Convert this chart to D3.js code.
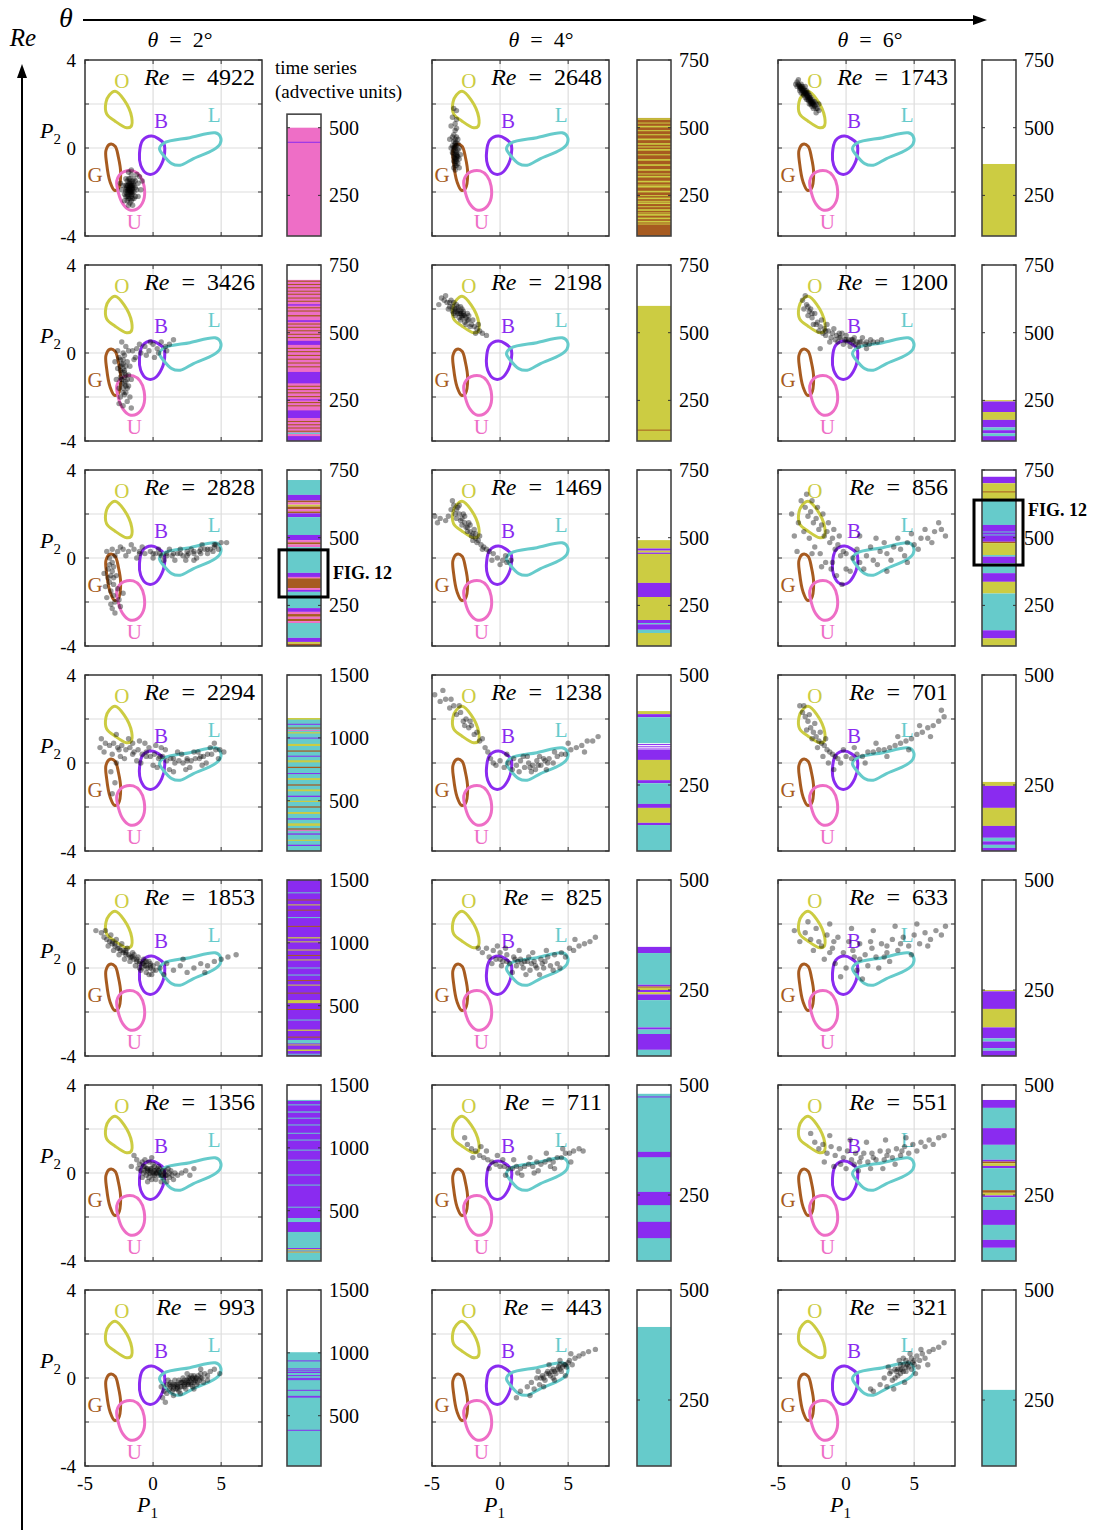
<!DOCTYPE html>
<html><head><meta charset="utf-8">
<script src="https://cdn.jsdelivr.net/npm/d3@7"></script>
<style>body{margin:0;background:#fff}</style>
</head><body>
<svg id="chart" width="1100" height="1530"></svg>
<script>
// ---- regime colours (O, B, L, G, U) ----
const stateColors = {O:"#cccc42", B:"#8a2bf0", L:"#66cbcb", G:"#a75b20", U:"#ee6ec6"};

// ---- grid of runs: rows = Re, columns = theta ----
const thetaCols = [2, 4, 6];
const reGrid = [[4922,2648,1743],[3426,2198,1200],[2828,1469,856],[2294,1238,701],[1853,825,633],[1356,711,551],[993,443,321]];
const timeMax = [[750,750,750],[750,750,750],[750,750,750],[1500,500,500],[1500,500,500],[1500,500,500],[1500,500,500]];
const frameTop = [[550,750,750],[750,750,750],[750,750,750],[1500,500,500],[1500,500,500],[1500,500,500],[1500,500,500]];
const timeTicks = {750:[250,500,750], 1500:[500,1000,1500], 500:[250,500]};

// ---- phase-space axes ----
const p1Domain = [-5, 8], p2Domain = [-4, 4];
const p1Ticks = [-5, 0, 5], p2Ticks = [-4, -2, 0, 2, 4];
const p1Grid = [0, 5], p2Grid = [-2, 0, 2];
const p1Labels = [-5, 0, 5], p2Labels = [-4, 0, 4];

// ---- regime contours in (P1, P2) ----
const loopO = [[-2.79,2.58],[-2.13,2.19],[-1.57,1.40],[-1.62,0.98],[-1.94,0.92],[-2.79,1.22],[-3.41,1.55],[-3.46,2.08],[-3.21,2.41]];
const loopB = [[-0.10,0.54],[0.76,0.23],[0.86,-0.03],[0.64,-0.71],[0.07,-1.16],[-0.47,-1.16],[-0.91,-0.78],[-1.00,-0.26],[-0.76,0.35]];
const loopL = [[0.81,0.23],[2.70,0.47],[4.56,0.69],[4.93,0.53],[4.93,0.20],[4.44,-0.08],[2.97,-0.48],[1.99,-0.78],[1.37,-0.71],[0.76,-0.33],[0.47,-0.03]];
const loopG = [[-3.16,0.17],[-2.79,0.08],[-2.55,-0.41],[-2.38,-1.16],[-2.55,-1.84],[-2.84,-1.92],[-3.16,-1.54],[-3.41,-0.71],[-3.46,-0.11]];
const loopU = [[-2.13,-1.07],[-1.45,-1.04],[-0.96,-1.27],[-0.66,-1.73],[-0.71,-2.40],[-1.20,-2.78],[-1.74,-2.81],[-2.23,-2.53],[-2.55,-2.03],[-2.67,-1.50],[-2.48,-1.23]];
const loopKeys = ["O","B","L","G","U"];
const loopLabelAt = {O:[-2.3,3.06], B:[0.59,1.25], L:[4.49,1.48], G:[-4.26,-1.24], U:[-1.37,-3.35]};

// ---- sampled states (P1, P2) per run ----
const cloud4922 = [[-1.7,-1.8],[-1.6,-1.6],[-1.8,-2.0],[-1.5,-1.9],[-1.9,-1.7],[-1.7,-1.4],[-1.6,-2.2],[-1.8,-2.3],[-2.0,-1.9],[-1.4,-1.7],[-1.5,-2.1],[-1.9,-1.5],[-1.7,-2.5],[-2.1,-2.1],[-1.3,-1.5],[-1.6,-1.2],[-2.0,-1.4],[-1.8,-1.1],[-1.4,-2.3],[-2.2,-1.7],[-1.2,-1.9],[-1.5,-2.6],[-1.9,-2.4],[-2.3,-1.9],[-1.1,-1.6],[-1.6,-1.0],[-1.3,-2.2],[-2.1,-2.4],[-1.0,-1.3],[-0.8,-1.5],[-1.2,-1.2],[-1.8,-1.8],[-1.6,-1.9],[-1.7,-1.7],[-1.5,-1.5],[-1.9,-2.1],[-1.4,-2.0],[-1.7,-2.1],[-1.8,-1.6],[-1.6,-1.7],[-1.5,-1.8],[-1.7,-2.0],[-2.0,-2.0],[-1.3,-1.8],[-1.8,-2.6],[-1.4,-1.4],[-0.9,-1.9],[-2.4,-1.6],[-1.6,-2.4],[-1.1,-2.2],[-1.7,-1.9],[-1.8,-1.9],[-1.6,-1.8],[-1.7,-1.6],[-1.9,-1.9],[-1.5,-1.7],[-1.8,-2.2],[-1.6,-2.0],[-1.7,-2.3],[-2.0,-1.7],[-1.75,-1.85],[-1.65,-1.75],[-1.85,-1.95],[-1.55,-2.0],[-1.95,-1.8],[-1.7,-1.5],[-1.5,-2.3],[-2.0,-2.2],[-1.45,-1.6],[-1.8,-1.4],[-1.6,-2.1],[-1.9,-2.2],[-1.7,-1.95],[-1.55,-1.85],[-1.85,-1.7]];
const cloud2648 = [[-3.3,0.0],[-3.2,-0.3],[-3.4,0.3],[-3.3,-0.6],[-3.1,-0.1],[-3.5,0.1],[-3.2,0.5],[-3.3,0.8],[-3.4,-0.4],[-3.2,-0.8],[-3.0,-0.5],[-3.5,-0.2],[-3.3,0.4],[-3.1,0.2],[-3.4,0.6],[-3.3,1.1],[-3.5,1.4],[-3.2,1.7],[-3.4,-0.9],[-3.1,-0.7],[-3.6,0.0],[-3.0,0.0],[-3.2,-0.2],[-3.3,-0.3],[-3.4,-0.1],[-3.2,0.1],[-3.3,0.2],[-3.1,-0.4],[-3.4,-0.6],[-3.5,0.5],[-3.6,1.0],[-3.2,1.3],[-3.0,-0.9],[-3.3,-1.0],[-2.9,-0.3],[-3.7,0.4],[-3.2,0.9],[-3.4,1.8],[-3.3,-0.5],[-3.2,-0.6],[-3.3,0.1],[-3.4,0.0],[-3.2,-0.4],[-3.3,-0.8],[-3.1,0.4],[-3.25,-0.15],[-3.35,0.05],[-3.15,-0.35],[-3.35,-0.45],[-3.25,0.25],[-3.45,-0.25],[-3.2,-0.5],[-3.3,-0.7]];
const cloud1743 = [[-3.6,3.0],[-3.5,2.9],[-3.4,2.8],[-3.3,2.7],[-3.2,2.6],[-3.1,2.5],[-3.0,2.5],[-2.9,2.4],[-2.8,2.3],[-2.7,2.2],[-2.6,2.1],[-2.5,2.0],[-2.4,2.0],[-2.3,1.9],[-2.2,1.8],[-2.1,1.8],[-3.5,3.1],[-3.4,2.6],[-3.2,2.8],[-3.1,2.7],[-3.0,2.3],[-2.9,2.6],[-2.8,2.5],[-2.7,2.0],[-2.6,2.3],[-2.5,2.2],[-2.4,1.8],[-2.3,2.1],[-2.2,2.0],[-2.0,1.7],[-3.3,2.9],[-3.3,2.5],[-3.0,2.6],[-2.9,2.2],[-2.8,2.4],[-2.6,2.0],[-2.5,1.9],[-2.7,2.4],[-3.1,2.4],[-3.2,2.7],[-2.4,2.1],[-3.7,2.9],[-3.6,2.8],[-2.2,1.6],[-2.0,2.0],[-2.8,2.2],[-3.0,2.8],[-2.6,2.2],[-3.4,2.7],[-2.9,2.5],[-3.1,2.6],[-2.7,2.3],[-2.5,2.1],[-3.3,2.8],[-3.25,2.65],[-3.05,2.55],[-2.85,2.35],[-2.65,2.25],[-2.45,2.05],[-3.15,2.45],[-2.95,2.45],[-2.75,2.15],[-2.55,2.05],[-3.35,2.75],[-2.35,1.95],[-3.45,2.85]];
const cloud3426 = [[-2.3,-0.5],[-2.1,-0.8],[-2.4,-1.1],[-2.0,-1.3],[-2.2,-1.6],[-1.9,-0.4],[-2.5,-0.2],[-2.2,0.0],[-1.8,-1.0],[-2.6,-0.7],[-2.3,-1.4],[-2.0,-1.8],[-2.4,-2.0],[-1.9,-2.2],[-2.1,-0.1],[-2.7,-1.2],[-2.5,-1.6],[-1.7,-0.6],[-2.2,-0.3],[-2.3,-0.9],[-2.1,-1.1],[-2.0,-0.6],[-2.4,-0.6],[-1.8,-1.5],[-2.6,0.1],[-1.6,-1.2],[-2.2,-2.4],[-1.7,-2.0],[-2.8,-0.4],[-1.5,0.1],[-1.2,0.2],[-0.9,0.0],[-0.6,0.3],[-0.3,0.1],[0.0,0.4],[0.3,0.2],[0.6,0.5],[0.9,0.3],[1.2,0.4],[1.5,0.6],[-1.0,0.4],[-0.5,-0.1],[0.1,-0.2],[-1.4,-0.3],[-2.0,0.3],[-2.3,0.5],[-1.8,0.1],[-2.1,-1.9],[-1.6,-2.5],[-2.5,-2.3],[-2.3,-1.2],[-2.0,-1.0],[-2.2,-0.7],[-1.9,-1.6],[-2.4,-0.3],[-2.1,-1.4],[-1.3,-0.2],[0.4,0.0],[-0.2,0.5],[1.0,0.1],[-2.2,-0.5],[-2.1,-0.9],[-2.3,-1.2],[-2.0,-1.5],[-2.2,-1.8],[-2.4,-0.8],[-1.9,-1.2]];
const cloud2198 = [[-4.3,2.5],[-4.1,2.4],[-3.9,2.3],[-3.7,2.3],[-3.5,2.1],[-3.3,2.0],[-3.1,1.9],[-2.9,1.8],[-2.7,1.7],[-2.5,1.6],[-2.3,1.5],[-2.1,1.3],[-1.9,1.2],[-1.7,1.1],[-1.5,1.0],[-1.3,0.9],[-4.0,2.6],[-3.8,2.0],[-3.6,2.4],[-3.4,1.8],[-3.2,2.2],[-3.0,1.6],[-2.8,2.0],[-2.6,1.4],[-2.4,1.8],[-2.2,1.2],[-2.0,1.5],[-1.8,0.9],[-3.3,1.7],[-3.1,2.1],[-2.9,1.5],[-2.7,1.9],[-2.5,1.3],[-2.3,1.7],[-3.5,1.9],[-3.7,2.1],[-2.6,1.7],[-2.8,1.6],[-3.0,1.8],[-2.4,1.5],[-4.5,2.2],[-1.0,0.8],[-1.6,1.3],[-3.4,2.3],[-2.9,2.1],[-3.1,1.8],[-2.9,1.9],[-3.2,2.0],[-2.7,1.8],[-3.3,1.9],[-2.8,1.7]];
const cloud1200 = [[-3.2,2.4],[-2.9,2.2],[-2.7,1.9],[-2.5,1.6],[-2.2,1.3],[-1.9,1.2],[-1.6,1.1],[-1.3,1.0],[-1.0,0.9],[-0.7,0.8],[-0.4,0.7],[-0.1,0.6],[0.2,0.6],[0.5,0.5],[0.8,0.5],[1.1,0.5],[1.4,0.4],[1.7,0.4],[2.0,0.5],[2.3,0.5],[-3.0,2.6],[-3.1,2.0],[-2.8,1.7],[-2.6,2.0],[-2.4,1.3],[-2.3,1.8],[-2.0,1.0],[-1.8,1.5],[-1.5,0.8],[-1.4,1.3],[-1.1,0.7],[-0.9,1.1],[-0.6,0.5],[-0.5,0.9],[-0.2,0.4],[0.0,0.8],[0.3,0.3],[0.6,0.7],[0.9,0.3],[1.2,0.7],[1.5,0.2],[1.8,0.6],[-1.9,0.2],[-1.2,0.5],[-0.3,0.9],[0.4,0.6],[0.7,0.4],[0.1,0.5],[-0.8,0.6],[2.6,0.6],[-2.1,1.4],[-1.7,0.9],[-0.5,0.7],[0.0,0.6],[0.5,0.6],[1.0,0.5],[1.5,0.5],[-1.5,1.0],[-2.5,1.8],[-2.8,2.1]];
const cloud2828 = [[-3.4,0.3],[-3.0,0.4],[-2.6,0.3],[-2.2,0.4],[-1.8,0.3],[-1.4,0.4],[-1.0,0.3],[-0.6,0.2],[-0.2,0.3],[0.2,0.2],[0.6,0.1],[1.0,0.2],[1.4,0.1],[1.8,0.2],[2.2,0.1],[2.6,0.2],[3.0,0.2],[3.4,0.3],[3.8,0.4],[4.2,0.4],[4.6,0.6],[5.0,0.7],[5.4,0.7],[-3.2,0.0],[-2.8,0.1],[-2.4,0.5],[-2.0,0.1],[-1.6,0.6],[-1.2,0.0],[-0.8,0.5],[0.0,0.0],[0.4,0.4],[0.8,-0.1],[1.2,0.4],[1.6,-0.1],[2.0,0.4],[2.4,-0.1],[2.8,0.4],[3.2,0.0],[3.6,0.6],[4.0,0.2],[4.4,0.3],[4.8,0.4],[3.0,-0.1],[2.5,0.3],[3.5,0.2],[4.5,0.5],[-3.2,-0.3],[-3.0,-0.6],[-3.3,-0.9],[-2.9,-1.2],[-3.1,-1.5],[-3.4,-1.8],[-2.8,-2.0],[-3.0,-0.2],[-3.2,-1.1],[-2.7,-0.8],[-3.3,-0.5],[-2.9,-1.7],[-3.5,-1.3],[-2.6,-1.4],[-3.1,-2.1],[-2.5,-1.9],[-3.0,-2.3],[-2.4,-2.2],[-2.8,-2.5],[-2.2,-1.6],[-3.6,-0.7],[-1.0,0.2],[0.0,0.2],[1.0,0.1],[2.0,0.2],[3.0,0.3],[4.0,0.4],[3.5,0.4],[2.5,0.1],[1.5,0.2],[0.5,0.2],[4.5,0.6],[-2.9,-0.9],[-3.1,-0.8],[-2.9,-0.4]];
const cloud1469 = [[-3.4,2.4],[-3.2,2.2],[-3.0,2.0],[-2.8,1.8],[-2.6,1.6],[-2.4,1.4],[-2.2,1.2],[-2.0,1.1],[-1.8,0.9],[-1.6,0.8],[-1.4,0.6],[-1.2,0.5],[-1.0,0.4],[-0.8,0.3],[-3.3,2.0],[-3.1,2.3],[-2.9,1.7],[-2.7,2.0],[-2.5,1.4],[-2.3,1.6],[-2.1,1.0],[-1.9,1.3],[-1.7,0.7],[-1.5,1.0],[-1.3,0.4],[-3.5,2.6],[-3.0,2.4],[-2.6,1.9],[-2.2,1.5],[-1.8,1.1],[-3.2,1.8],[-2.8,1.5],[-2.4,1.2],[-2.0,0.8],[-3.6,2.2],[-4.8,1.9],[-4.4,1.8],[-4.0,1.7],[-4.6,1.6],[-3.8,1.9],[-0.5,0.2],[-0.2,0.0],[0.2,-0.1],[0.5,-0.2],[0.8,-0.1],[0.0,-0.3],[0.4,0.1],[-0.6,-0.1]];
const cloud856 = [[-3.3,2.6],[-3.0,2.3],[-2.8,1.9],[-2.6,2.1],[-2.4,1.6],[-2.2,1.8],[-2.0,1.3],[-1.8,1.5],[-1.6,1.0],[-1.4,1.2],[-1.2,0.7],[-1.0,0.9],[-0.8,0.4],[-0.6,0.6],[-0.4,0.1],[-0.2,0.3],[-3.5,1.6],[-3.1,1.2],[-2.7,0.9],[-2.3,0.5],[-1.9,0.2],[-1.5,-0.2],[-1.1,-0.5],[-0.7,-0.8],[-2.9,2.9],[-2.5,2.6],[-2.1,2.3],[-1.7,2.0],[-1.3,1.6],[-0.9,1.3],[-0.5,1.0],[-3.8,1.0],[-2.5,0.2],[-1.8,-0.4],[-1.0,-0.2],[0.0,-0.5],[0.0,0.2],[0.5,0.0],[1.0,-0.2],[1.5,0.1],[2.0,-0.1],[2.5,0.3],[3.0,0.2],[3.5,0.5],[4.0,0.4],[4.5,0.7],[5.0,0.6],[5.5,0.9],[6.0,0.9],[6.5,1.2],[7.0,1.3],[0.3,-0.6],[0.8,0.4],[1.3,-0.5],[1.8,0.5],[2.3,-0.3],[2.8,0.7],[3.3,-0.1],[3.8,0.9],[4.3,0.1],[4.8,1.1],[5.3,0.4],[5.8,1.3],[6.3,0.7],[6.8,1.6],[7.3,1.0],[-4.0,2.0],[-3.6,0.3],[1.0,1.0],[2.2,0.9],[-0.3,-1.2],[3.0,-0.6],[4.5,-0.2]];
const cloud2294 = [[-3.8,1.1],[-3.5,0.9],[-3.2,0.8],[-2.9,0.9],[-2.6,0.7],[-2.3,0.8],[-2.0,0.6],[-1.7,0.7],[-1.4,0.5],[-1.1,0.6],[-0.8,0.4],[-0.5,0.5],[-0.2,0.3],[0.1,0.4],[0.4,0.2],[0.7,0.3],[1.0,0.1],[1.3,0.2],[1.6,0.0],[1.9,0.1],[2.2,0.0],[2.5,0.1],[2.8,0.1],[3.1,0.2],[3.4,0.2],[3.7,0.3],[4.0,0.4],[4.3,0.4],[4.6,0.6],[4.9,0.6],[5.2,0.5],[-3.6,0.5],[-3.0,0.4],[-2.4,0.3],[-1.8,1.1],[-1.2,0.1],[-0.6,0.9],[0.0,-0.1],[0.6,0.7],[1.2,-0.3],[1.8,0.5],[2.4,-0.3],[3.0,0.5],[3.6,-0.1],[4.2,0.7],[4.8,0.2],[-2.7,1.3],[-2.1,0.2],[-1.5,0.9],[-0.9,0.0],[-0.3,0.7],[0.3,-0.2],[0.9,0.6],[1.5,-0.4],[2.1,0.4],[2.7,-0.2],[3.3,0.5],[3.9,0.0],[4.5,0.9],[-3.1,-0.4],[-2.8,-0.9],[-3.0,-1.4],[-2.7,0.0],[-3.9,0.7],[-1.0,1.0],[0.2,0.8],[-2.5,0.6],[-1.5,0.4],[-0.5,0.3],[0.5,0.3],[1.5,0.2],[2.5,0.2],[3.5,0.3]];
const cloud1238 = [[-4.8,3.1],[-4.4,2.8],[-4.0,2.9],[-3.7,2.5],[-3.4,2.6],[-3.2,2.2],[-2.9,2.3],[-2.7,1.9],[-2.5,2.0],[-2.3,1.6],[-2.1,1.7],[-1.9,1.3],[-1.7,1.4],[-1.5,1.0],[-1.3,1.1],[-1.1,0.7],[-0.9,0.5],[-0.7,0.2],[-0.5,0.0],[-3.0,2.6],[-2.6,1.7],[-2.2,1.9],[-4.2,3.3],[-3.6,2.9],[-0.3,-0.1],[0.0,0.1],[0.3,-0.2],[0.6,0.0],[0.9,-0.3],[1.2,-0.1],[1.5,0.1],[1.8,-0.2],[2.1,0.0],[2.4,-0.1],[2.7,0.1],[3.0,-0.1],[3.3,0.1],[3.6,0.2],[3.9,0.0],[4.2,0.3],[4.5,0.4],[4.8,0.4],[5.2,0.6],[5.6,0.7],[6.0,0.8],[6.4,1.0],[6.8,1.0],[7.2,1.2],[1.0,0.2],[1.7,0.3],[2.3,-0.4],[2.9,0.3],[3.4,-0.3],[2.0,0.3],[2.6,-0.3],[3.2,0.2],[1.4,-0.4],[4.0,0.5],[5.0,0.9],[6.2,0.5],[0.5,0.4],[2.2,-0.2],[2.8,-0.1],[3.5,0.0]];
const cloud701 = [[-3.4,2.6],[-3.2,2.3],[-3.0,2.1],[-2.8,1.9],[-2.6,1.6],[-2.4,1.4],[-2.2,1.2],[-2.0,1.0],[-1.8,0.9],[-1.6,0.8],[-1.4,0.6],[-1.2,0.5],[-1.0,0.4],[-0.8,0.3],[-0.6,0.2],[-3.1,2.6],[-2.7,2.2],[-2.3,1.8],[-1.9,1.4],[-1.5,1.1],[-2.9,1.5],[-2.5,1.1],[-2.1,0.7],[-1.7,0.3],[-1.3,0.0],[-0.9,-0.3],[-0.4,0.0],[0.0,0.3],[0.4,0.2],[0.8,0.4],[1.2,0.3],[1.6,0.5],[2.0,0.5],[2.4,0.6],[2.8,0.6],[3.2,0.7],[3.6,0.8],[4.0,0.9],[4.4,1.0],[4.8,1.1],[5.2,1.3],[5.6,1.4],[6.0,1.6],[6.4,1.7],[6.8,1.9],[7.2,2.1],[0.6,0.7],[1.4,0.0],[2.2,0.9],[3.0,0.3],[3.8,1.2],[4.6,0.6],[5.4,1.7],[6.2,1.2],[7.0,2.4],[-0.2,0.6]];
const cloud1853 = [[-3.8,1.6],[-3.6,1.4],[-3.4,1.3],[-3.2,1.2],[-3.0,1.1],[-2.8,1.0],[-2.6,0.9],[-2.4,0.8],[-2.2,0.7],[-2.0,0.6],[-1.8,0.6],[-1.6,0.5],[-1.4,0.4],[-1.2,0.3],[-1.0,0.2],[-0.8,0.2],[-0.6,0.1],[-0.4,0.0],[-0.2,0.0],[0.0,-0.1],[0.2,-0.1],[-3.5,1.7],[-3.1,1.5],[-2.7,1.3],[-2.3,1.1],[-1.9,0.9],[-1.5,0.7],[-1.1,0.5],[-0.7,0.4],[-0.3,0.3],[-3.3,1.0],[-2.9,0.8],[-2.5,0.6],[-2.1,0.4],[-1.7,0.3],[-1.3,0.1],[-0.9,-0.1],[-0.5,-0.2],[-0.1,-0.3],[0.3,0.2],[-1.0,0.0],[-0.5,0.3],[0.0,0.1],[-0.3,-0.3],[0.5,0.0],[1.0,0.2],[1.5,-0.1],[2.0,0.1],[2.5,-0.2],[3.0,0.0],[3.5,0.2],[4.0,0.1],[4.5,0.3],[5.0,0.4],[5.5,0.5],[6.1,0.6],[0.8,-0.3],[2.2,0.4],[3.8,-0.2],[-4.2,1.7],[-2.0,0.8],[-1.4,0.6],[-0.8,0.0],[-0.6,0.3],[-0.2,0.2],[-3.0,1.2],[-2.5,0.9],[-2.0,0.7],[-1.5,0.5],[-1.0,0.3],[-0.5,0.1],[-2.8,1.1],[-2.2,0.8],[-1.7,0.5],[-1.2,0.4],[-0.7,0.2],[-0.2,0.1]];
const cloud825 = [[-1.6,0.9],[-1.3,0.7],[-1.0,0.9],[-0.8,0.5],[-0.5,0.8],[-0.3,0.4],[0.0,0.7],[0.2,0.3],[0.5,0.6],[0.7,0.2],[1.0,0.5],[1.2,0.1],[1.5,0.4],[1.7,0.0],[2.0,0.3],[2.2,-0.1],[2.5,0.3],[2.7,0.0],[3.0,0.4],[3.2,0.0],[3.5,0.5],[3.7,0.1],[4.0,0.6],[4.2,0.2],[4.5,0.7],[4.8,0.5],[5.1,0.9],[5.4,0.8],[5.8,1.0],[6.2,1.1],[6.6,1.2],[7.0,1.4],[0.4,0.9],[1.4,0.8],[2.4,0.7],[3.4,0.8],[0.9,-0.2],[1.9,-0.3],[2.9,-0.3],[3.9,-0.1],[-0.6,0.2],[0.1,0.1],[1.1,0.4],[2.1,0.5],[3.1,0.2],[1.6,0.2],[2.6,0.1],[-0.2,1.0],[4.4,0.0],[5.5,1.3],[0.5,0.3],[1.3,0.3],[2.3,0.2],[3.3,0.3],[0.0,0.4],[1.8,0.3]];
const cloud633 = [[-3.0,1.6],[-2.6,1.3],[-2.2,1.8],[-1.8,1.0],[-1.4,1.5],[-1.0,0.9],[-0.6,1.4],[-0.2,0.7],[0.2,1.2],[0.6,0.5],[1.0,1.1],[1.4,0.6],[1.8,1.2],[2.2,0.5],[2.6,1.1],[3.0,0.7],[3.4,1.3],[3.8,0.8],[4.2,1.4],[4.6,1.0],[5.0,1.5],[5.4,1.1],[5.8,1.6],[6.2,1.3],[6.6,1.7],[7.0,1.5],[-2.4,0.8],[-1.6,0.4],[-0.8,0.2],[0.0,0.0],[0.8,-0.1],[1.6,0.1],[2.4,0.0],[3.2,0.3],[-1.2,2.0],[0.4,1.8],[2.0,1.7],[3.6,1.9],[5.2,2.0],[-0.4,-0.4],[1.2,-0.5],[-3.4,1.2],[-2.8,2.1],[4.8,0.6],[6.0,1.0],[7.3,1.9],[1.0,0.4],[2.8,0.5],[-0.9,1.2],[0.5,0.8],[1.9,0.9],[3.0,1.0],[4.0,1.1],[-2.0,1.2],[-1.2,0.7],[-3.8,1.7]];
const cloud1356 = [[-1.2,0.6],[-1.0,0.4],[-0.8,0.5],[-0.6,0.3],[-0.4,0.2],[-0.2,0.1],[0.0,0.0],[0.2,0.0],[0.4,-0.1],[0.6,-0.1],[0.8,-0.2],[1.0,-0.1],[1.2,-0.2],[1.4,-0.1],[1.6,0.0],[1.8,-0.1],[2.1,0.0],[2.4,0.1],[-0.9,0.1],[-0.7,0.0],[-0.5,-0.1],[-0.3,-0.2],[-0.1,-0.3],[0.1,0.3],[0.3,0.2],[0.5,0.2],[0.7,0.1],[0.9,0.1],[1.1,0.2],[1.3,0.1],[-0.6,0.6],[-0.3,0.5],[0.0,0.4],[-1.1,0.2],[-0.8,-0.2],[-0.4,-0.4],[0.2,-0.3],[0.6,-0.4],[1.0,-0.4],[1.5,-0.3],[-0.2,0.2],[0.0,-0.1],[0.3,0.0],[-0.5,0.2],[0.8,0.0],[-1.4,0.8],[-1.6,0.3],[-0.1,0.7],[2.7,-0.1],[3.0,0.2],[-0.3,0.0],[0.1,0.1],[0.5,0.0],[-0.7,0.3],[0.4,0.3],[-0.2,0.0],[0.1,-0.1],[0.4,0.1],[0.7,-0.1],[-0.4,0.1],[-0.6,0.1],[0.2,0.1],[0.9,-0.1],[1.2,0.0],[-0.1,0.2]];
const cloud711 = [[-2.4,1.3],[-2.1,1.1],[-1.8,1.0],[-1.5,0.8],[-1.2,0.7],[-0.9,0.6],[-0.6,0.5],[-0.3,0.4],[0.0,0.3],[0.3,0.3],[0.6,0.2],[0.9,0.2],[1.2,0.3],[1.5,0.2],[1.8,0.3],[2.1,0.4],[2.4,0.3],[2.7,0.5],[3.0,0.4],[3.3,0.5],[3.6,0.6],[3.9,0.5],[4.2,0.7],[4.5,0.7],[4.8,0.9],[5.1,0.9],[5.4,1.0],[5.8,1.1],[6.1,1.0],[-2.0,0.7],[-1.4,1.2],[-0.8,0.2],[-0.2,0.8],[0.4,-0.1],[1.0,0.6],[1.6,-0.1],[2.2,0.7],[2.8,0.1],[3.4,0.9],[4.0,0.2],[4.6,1.1],[5.2,0.5],[-1.0,1.0],[0.2,0.6],[1.3,0.0],[2.5,0.0],[3.7,0.3],[-2.6,1.6]];
const cloud551 = [[-2.3,1.4],[-2.0,1.1],[-1.7,1.3],[-1.4,0.9],[-1.1,1.2],[-0.8,0.8],[-0.5,1.1],[-0.2,0.7],[0.1,1.0],[0.4,0.6],[0.7,0.9],[1.0,0.5],[1.3,0.9],[1.6,0.5],[1.9,0.9],[2.2,0.6],[2.5,1.0],[2.8,0.6],[3.1,1.0],[3.4,0.7],[3.7,1.1],[4.0,0.8],[4.3,1.2],[4.6,0.9],[4.9,1.3],[5.2,1.0],[5.5,1.4],[5.8,1.2],[6.1,1.5],[6.4,1.3],[6.8,1.6],[7.2,1.7],[-1.6,0.5],[-0.9,0.3],[0.0,0.2],[0.9,0.1],[1.8,0.2],[2.7,0.2],[3.6,0.4],[-1.2,1.7],[0.3,1.5],[1.5,1.4],[2.9,1.5],[4.4,1.6],[-0.4,0.4],[1.1,0.7],[2.0,0.7],[3.0,0.8],[4.1,1.0],[0.6,0.4],[-2.6,1.8]];
const cloud993 = [[0.6,-0.4],[0.8,-0.6],[1.0,-0.3],[1.0,-0.7],[1.2,-0.5],[1.3,-0.2],[1.4,-0.6],[1.5,-0.4],[1.6,-0.1],[1.7,-0.5],[1.8,-0.3],[1.9,-0.6],[2.0,-0.2],[2.1,-0.4],[2.2,0.0],[2.3,-0.3],[2.4,-0.5],[2.5,-0.1],[2.6,-0.3],[2.7,0.0],[2.8,-0.2],[2.9,-0.4],[3.0,0.1],[3.1,-0.1],[3.2,-0.3],[3.3,0.1],[3.4,-0.1],[3.5,0.2],[3.6,0.0],[3.7,-0.2],[3.8,0.2],[4.0,0.1],[4.2,0.3],[1.1,-0.1],[1.5,-0.8],[2.0,-0.7],[2.5,0.2],[3.0,-0.5],[3.5,0.4],[4.0,-0.1],[1.3,-0.4],[1.7,-0.3],[2.2,-0.2],[2.7,-0.1],[3.2,0.0],[1.9,-0.1],[2.4,-0.2],[2.9,0.0],[0.9,-1.1],[4.9,0.2],[4.5,0.4],[0.7,-0.9],[1.6,-0.3],[2.1,-0.2],[2.6,-0.2],[3.1,0.0],[1.4,-0.3],[1.8,-0.5],[2.3,-0.1],[2.8,0.1],[1.5,-0.5],[2.0,-0.4],[2.5,-0.3],[3.0,-0.2],[3.5,0.0],[1.8,-0.4],[2.3,-0.4],[2.8,-0.3],[3.3,-0.2],[1.2,-0.3],[2.6,0.0],[3.0,-0.1]];
const cloud443 = [[1.5,-0.6],[2.0,-0.4],[2.3,-0.2],[2.5,-0.5],[2.7,0.0],[2.9,-0.3],[3.1,0.1],[3.3,-0.1],[3.5,0.3],[3.7,0.1],[3.9,0.4],[4.1,0.2],[4.3,0.5],[4.5,0.3],[4.7,0.6],[4.9,0.5],[5.1,0.8],[5.3,0.6],[5.5,0.9],[5.8,1.0],[6.1,1.1],[6.5,1.2],[7.0,1.3],[2.8,0.3],[3.2,-0.4],[3.6,0.6],[4.0,-0.1],[4.4,0.8],[4.8,0.1],[5.2,1.1],[3.0,0.0],[3.4,0.2],[3.8,0.3],[4.2,0.4],[4.6,0.5],[5.0,0.7],[2.2,-0.8],[1.2,-0.9],[3.9,0.0],[4.4,0.6],[3.2,0.0],[3.6,0.2],[4.0,0.3],[4.4,0.4],[4.8,0.6]];
const cloud321 = [[2.5,-0.3],[2.8,0.0],[3.0,-0.4],[3.2,0.2],[3.4,-0.1],[3.6,0.4],[3.8,0.1],[4.0,0.6],[4.2,0.3],[4.4,0.8],[4.6,0.5],[4.8,0.9],[5.0,0.6],[5.2,1.0],[5.4,0.8],[5.6,1.1],[5.8,0.9],[6.1,1.2],[6.4,1.3],[6.8,1.4],[7.2,1.6],[3.1,0.5],[3.5,-0.5],[3.9,0.8],[4.3,-0.2],[4.7,1.1],[5.1,0.2],[5.5,1.3],[3.7,0.3],[4.1,0.4],[4.5,0.6],[4.9,0.7],[4.0,0.2],[4.4,0.5],[4.8,0.4],[3.3,0.3],[2.0,-0.6],[1.8,-0.5],[6.0,0.6],[3.6,0.0],[4.2,0.9],[5.3,0.5],[3.8,0.4],[4.2,0.6],[4.6,0.7],[5.0,0.8],[4.0,0.4],[4.4,0.3]];

// ---- regime time series: [t start, t end, regime], later entries drawn on top ----
const ts4922 = [[100,500,"U"],[445,448,"B"]];
const ts2648 = [[100,536,"G"],[529,535,"O"],[516,519,"O"],[501,507,"O"],[487,491,"O"],[472,476,"O"],[454,460,"O"],[437,443,"O"],[427,431,"O"],[415,421,"O"],[398,402,"O"],[378,384,"O"],[359,365,"O"],[341,347,"O"],[328,331,"O"],[316,322,"O"],[298,304,"O"],[287,290,"O"],[279,285,"O"],[261,267,"O"],[248,251,"O"],[236,242,"O"],[227,230,"O"],[218,224,"O"],[207,210,"O"],[193,199,"O"],[184,187,"O"],[175,181,"O"],[162,168,"O"],[150,156,"O"],[143,146,"O"]];
const ts1743 = [[100,366,"O"]];
const ts3426 = [[100,695,"U"],[688,692,"G"],[676,680,"G"],[664,668,"G"],[652,655,"G"],[640,644,"G"],[626,630,"G"],[614,618,"G"],[590,594,"G"],[578,582,"G"],[560,565,"G"],[530,534,"G"],[518,522,"G"],[505,509,"G"],[492,496,"G"],[480,484,"G"],[440,444,"G"],[428,432,"G"],[414,418,"G"],[400,404,"G"],[386,390,"G"],[372,376,"G"],[300,304,"G"],[288,292,"G"],[276,280,"G"],[262,266,"G"],[240,244,"G"],[228,232,"G"],[170,174,"G"],[158,162,"G"],[146,150,"G"],[134,138,"G"],[600,605,"B"],[540,546,"B"],[455,470,"B"],[313,355,"B"],[250,254,"B"],[185,213,"B"],[100,118,"B"],[126,131,"L"]];
const ts2198 = [[100,599,"O"],[140,142,"G"]];
const ts1200 = [[246,251,"O"],[207,246,"B"],[178,207,"O"],[150,178,"B"],[140,150,"L"],[128,140,"B"],[118,128,"L"],[100,118,"B"]];
const ts2828 = [[658,713,"L"],[637,658,"B"],[630,637,"G"],[622,630,"U"],[615,622,"O"],[605,615,"G"],[597,605,"U"],[590,597,"G"],[576,590,"B"],[510,576,"L"],[491,510,"B"],[483,491,"U"],[475,483,"G"],[465,475,"U"],[370,465,"L"],[355,370,"B"],[350,355,"U"],[314,350,"G"],[307,314,"U"],[300,307,"B"],[240,300,"L"],[226,240,"B"],[218,226,"U"],[208,218,"G"],[200,208,"U"],[192,200,"G"],[185,192,"U"],[130,185,"L"],[115,130,"B"],[108,115,"O"],[100,108,"G"]];
const ts1469 = [[460,491,"O"],[452,460,"B"],[445,452,"O"],[440,445,"B"],[333,440,"O"],[281,333,"B"],[196,281,"O"],[185,196,"B"],[180,185,"L"],[160,180,"B"],[148,160,"L"],[100,148,"O"]];
const ts856 = [[701,725,"B"],[639,701,"O"],[668,671,"G"],[547,639,"L"],[485,547,"B"],[520,523,"L"],[510,512,"L"],[480,485,"G"],[436,480,"O"],[430,436,"L"],[405,430,"B"],[369,405,"L"],[337,369,"B"],[294,337,"O"],[158,294,"L"],[128,158,"B"],[100,128,"O"]];
const ts2294 = [[100,1158,"L"],[1145,1158,"O"],[1105,1112,"B"],[1075,1082,"G"],[1060,1064,"U"],[1035,1045,"O"],[995,1002,"B"],[935,952,"O"],[890,900,"G"],[850,858,"B"],[805,822,"O"],[760,770,"G"],[712,720,"B"],[665,680,"O"],[620,630,"G"],[575,590,"O"],[530,540,"B"],[490,500,"O"],[445,455,"G"],[395,410,"O"],[350,360,"B"],[300,320,"O"],[270,280,"G"],[262,266,"U"],[230,240,"B"],[180,190,"O"],[140,150,"B"]];
const ts1238 = [[411,418,"O"],[404,411,"B"],[345,404,"L"],[341,343,"B"],[336,338,"B"],[331,333,"B"],[307,330,"B"],[261,307,"O"],[254,261,"B"],[207,254,"L"],[198,207,"B"],[164,198,"O"],[159,164,"B"],[100,159,"L"]];
const ts701 = [[248,257,"O"],[198,248,"B"],[157,198,"O"],[130,157,"B"],[122,130,"L"],[114,122,"B"],[107,114,"L"],[100,107,"B"]];
const ts1853 = [[100,1500,"B"],[1395,1402,"L"],[1340,1345,"G"],[1298,1306,"O"],[1260,1264,"G"],[1200,1205,"L"],[1130,1135,"G"],[1035,1045,"O"],[1005,1012,"O"],[940,947,"O"],[900,904,"G"],[860,868,"O"],[800,804,"L"],[742,748,"L"],[700,704,"G"],[660,668,"O"],[600,604,"G"],[520,545,"O"],[470,474,"G"],[383,390,"L"],[300,310,"O"],[250,254,"G"],[200,228,"L"],[185,192,"O"],[140,152,"O"],[112,118,"L"]];
const ts825 = [[334,348,"B"],[262,334,"L"],[258,262,"B"],[255,258,"G"],[250,255,"O"],[245,250,"B"],[240,245,"O"],[227,240,"B"],[165,227,"L"],[160,165,"B"],[150,160,"L"],[114,150,"B"],[100,114,"L"]];
const ts633 = [[247,250,"O"],[207,247,"B"],[165,207,"O"],[140,165,"B"],[133,140,"L"],[118,133,"B"],[112,118,"L"],[100,112,"B"]];
const ts1356 = [[100,1381,"B"],[1375,1381,"L"],[1338,1346,"L"],[1280,1290,"L"],[1232,1240,"L"],[1178,1186,"L"],[1114,1120,"L"],[1058,1066,"L"],[980,986,"L"],[900,906,"L"],[780,788,"L"],[700,708,"L"],[525,532,"L"],[410,442,"L"],[203,331,"L"],[185,195,"O"],[175,185,"L"],[165,175,"O"],[100,165,"L"]];
const ts711 = [[100,480,"L"],[472,474,"B"],[336,348,"B"],[227,257,"B"],[152,189,"B"]];
const ts551 = [[448,466,"B"],[402,448,"L"],[364,402,"B"],[330,364,"L"],[326,330,"B"],[322,326,"G"],[316,322,"O"],[311,316,"B"],[261,311,"L"],[255,261,"G"],[249,255,"O"],[245,249,"B"],[216,245,"L"],[182,216,"B"],[148,182,"L"],[130,148,"B"],[100,130,"L"]];
const ts993 = [[100,1005,"L"],[936,940,"B"],[873,876,"B"],[858,861,"B"],[845,848,"B"],[820,823,"B"],[798,801,"B"],[788,791,"B"],[702,706,"B"],[655,658,"B"],[649,652,"B"],[385,388,"B"]];
const ts443 = [[100,416,"L"]];
const ts321 = [[100,273,"L"]];

const cloudGrid = [[cloud4922,cloud2648,cloud1743],[cloud3426,cloud2198,cloud1200],[cloud2828,cloud1469,cloud856],[cloud2294,cloud1238,cloud701],[cloud1853,cloud825,cloud633],[cloud1356,cloud711,cloud551],[cloud993,cloud443,cloud321]];
const seriesGrid = [[ts4922,ts2648,ts1743],[ts3426,ts2198,ts1200],[ts2828,ts1469,ts856],[ts2294,ts1238,ts701],[ts1853,ts825,ts633],[ts1356,ts711,ts551],[ts993,ts443,ts321]];

// windows highlighted in the time series
const figWindows = [{row:2, col:0, t:[281,455], labelT:368}, {row:2, col:2, t:[399,639], labelT:604}];

// ---- layout ----
const colLeft = [85, 432, 778];
const rowTop = [60, 265, 470, 675, 880, 1085, 1290];
const panelW = 177, panelH = 176;
const barLeft = [287, 637, 982], barW = 34;
const serif = "'Liberation Serif','DejaVu Serif',serif";
const sp = "\u2002";

const svg = d3.select("#chart").attr("font-family", serif);
const loops = {O:loopO, B:loopB, L:loopL, G:loopG, U:loopU};

function drawScatter(r, c, re, pts) {
  const x0 = colLeft[c], y0 = rowTop[r];
  const x = d3.scaleLinear(p1Domain, [x0, x0 + panelW]);
  const y = d3.scaleLinear(p2Domain, [y0 + panelH, y0]);
  const g = svg.append("g");
  g.selectAll(null).data(p1Grid).join("line")
    .attr("x1", d => x(d)).attr("x2", d => x(d)).attr("y1", y0).attr("y2", y0 + panelH)
    .attr("stroke", "#dddddd").attr("stroke-width", 1.2);
  g.selectAll(null).data(p2Grid).join("line")
    .attr("y1", d => y(d)).attr("y2", d => y(d)).attr("x1", x0).attr("x2", x0 + panelW)
    .attr("stroke", "#dddddd").attr("stroke-width", 1.2);

  const line = d3.line().x(d => x(d[0])).y(d => y(d[1])).curve(d3.curveCatmullRomClosed.alpha(0.5));
  loopKeys.forEach(k => {
    g.append("path").attr("d", line(loops[k])).attr("fill", "none")
      .attr("stroke", stateColors[k]).attr("stroke-width", 3).attr("stroke-linejoin", "round");
    g.append("text").attr("x", x(loopLabelAt[k][0])).attr("y", y(loopLabelAt[k][1]))
      .attr("text-anchor", "middle").attr("dominant-baseline", "central")
      .attr("font-size", 21).attr("fill", stateColors[k]).text(k);
  });

  g.selectAll(null).data(pts).join("circle")
    .attr("cx", d => x(d[0])).attr("cy", d => y(d[1])).attr("r", 2.7)
    .attr("fill", "#000").attr("fill-opacity", 0.4);

  g.append("rect").attr("x", x0).attr("y", y0).attr("width", panelW).attr("height", panelH)
    .attr("fill", "none").attr("stroke", "#333").attr("stroke-width", 1.5);
  // inward ticks on all four sides
  g.selectAll(null).data(p1Ticks).join("path")
    .attr("d", d => `M${x(d)},${y0 + panelH}v-4M${x(d)},${y0}v4`).attr("stroke", "#333").attr("stroke-width", 1);
  g.selectAll(null).data(p2Ticks).join("path")
    .attr("d", d => `M${x0},${y(d)}h4M${x0 + panelW},${y(d)}h-4`).attr("stroke", "#333").attr("stroke-width", 1);

  const lab = g.append("text").attr("x", x0 + panelW - 7).attr("y", y0 + 25)
    .attr("text-anchor", "end").attr("font-size", 24);
  lab.append("tspan").attr("font-style", "italic").text("Re");
  lab.append("tspan").text(sp + "=" + sp + re);

  if (c === 0) {
    g.selectAll(null).data(p2Labels).join("text")
      .attr("x", x0 - 9).attr("y", d => y(d)).attr("text-anchor", "end")
      .attr("dominant-baseline", "central").attr("font-size", 19).text(d => String(d));
    const p = g.append("text").attr("x", x0 - 45).attr("y", y(0) - 10).attr("font-size", 22);
    p.append("tspan").attr("font-style", "italic").text("P");
    p.append("tspan").attr("font-size", 15).attr("dy", 6).text("2");
  }
  if (r === reGrid.length - 1) {
    g.selectAll(null).data(p1Labels).join("text")
      .attr("x", d => x(d)).attr("y", y0 + panelH + 24).attr("text-anchor", "middle")
      .attr("font-size", 19).text(d => String(d));
    const p = g.append("text").attr("x", x(0) - 16).attr("y", y0 + panelH + 46).attr("font-size", 22);
    p.append("tspan").attr("font-style", "italic").text("P");
    p.append("tspan").attr("font-size", 15).attr("dy", 6).text("1");
  }
}

function drawSeries(r, c, segs, tMax, fTop) {
  const bx = barLeft[c], y0 = rowTop[r];
  const t = d3.scaleLinear([100, tMax], [y0 + panelH, y0]);
  const g = svg.append("g");
  g.append("rect").attr("x", bx).attr("y", t(fTop)).attr("width", barW).attr("height", t(100) - t(fTop)).attr("fill", "#fff");
  g.selectAll(null).data(segs).join("rect")
    .attr("x", bx).attr("width", barW)
    .attr("y", d => t(d[1])).attr("height", d => Math.max(1, t(d[0]) - t(d[1])))
    .attr("fill", d => stateColors[d[2]]);
  g.append("rect").attr("x", bx).attr("y", t(fTop)).attr("width", barW).attr("height", t(100) - t(fTop))
    .attr("fill", "none").attr("stroke", "#444").attr("stroke-width", 1.6);
  const ticks = timeTicks[tMax].filter(v => v <= fTop);
  g.selectAll(null).data(ticks).join("path")
    .attr("d", d => `M${bx},${t(d)}h3M${bx + barW},${t(d)}h-3`).attr("stroke", "#333");
  g.selectAll(null).data(ticks).join("text")
    .attr("x", bx + barW + 8).attr("y", d => t(d)).attr("dominant-baseline", "central")
    .attr("font-size", 20).text(d => d);
}

reGrid.forEach((row, r) => row.forEach((re, c) => {
  drawScatter(r, c, re, cloudGrid[r][c]);
  drawSeries(r, c, seriesGrid[r][c], timeMax[r][c], frameTop[r][c]);
}));

// highlighted windows
figWindows.forEach(w => {
  const t = d3.scaleLinear([100, timeMax[w.row][w.col]], [rowTop[w.row] + panelH, rowTop[w.row]]);
  const bx = barLeft[w.col];
  svg.append("rect").attr("x", bx - 8).attr("y", t(w.t[1])).attr("width", barW + 15)
    .attr("height", t(w.t[0]) - t(w.t[1])).attr("fill", "none").attr("stroke", "#000").attr("stroke-width", 3);
  svg.append("text").attr("x", bx + barW + 12).attr("y", t(w.labelT)).attr("dominant-baseline", "central")
    .attr("font-size", 18).attr("font-weight", "bold").text("FIG. 12");
});

// column titles
thetaCols.forEach((th, c) => {
  const tx = [180, 541, 870][c];
  const tt = svg.append("text").attr("x", tx).attr("y", 47).attr("text-anchor", "middle").attr("font-size", 22);
  tt.append("tspan").attr("font-style", "italic").text("θ");
  tt.append("tspan").text(sp + "=" + sp + th + "°");
});

svg.append("text").attr("x", 275).attr("y", 74).attr("font-size", 19).text("time series");
svg.append("text").attr("x", 275).attr("y", 98).attr("font-size", 19).text("(advective units)");

// global axis arrows
svg.append("text").attr("x", 66).attr("y", 27).attr("text-anchor", "middle").attr("font-size", 28).attr("font-style", "italic").text("θ");
svg.append("line").attr("x1", 83).attr("x2", 975).attr("y1", 20).attr("y2", 20).attr("stroke", "#000").attr("stroke-width", 2);
svg.append("path").attr("d", "M987,20L973,15L973,25Z").attr("fill", "#000");
svg.append("text").attr("x", 23).attr("y", 46).attr("text-anchor", "middle").attr("font-size", 25).attr("font-style", "italic").text("Re");
svg.append("line").attr("x1", 22).attr("x2", 22).attr("y1", 1530).attr("y2", 76).attr("stroke", "#000").attr("stroke-width", 2);
svg.append("path").attr("d", "M22,64L17,78L27,78Z").attr("fill", "#000");
</script>
</body></html>
